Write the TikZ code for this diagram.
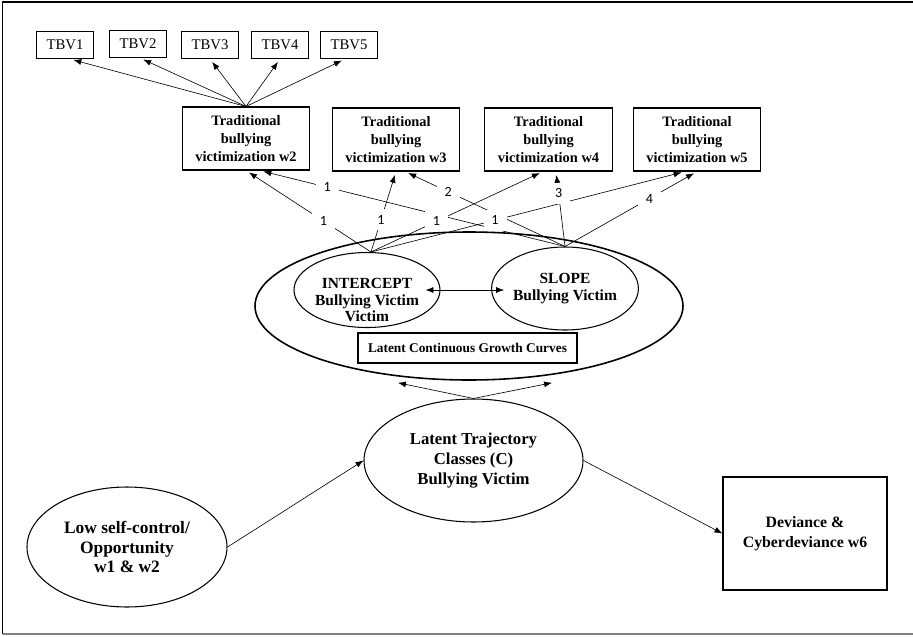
\documentclass[tikz,border=0pt]{standalone}
\usepackage{fontspec}
\setmainfont{Liberation Serif}
\newfontfamily\numfont{Carlito}
\usetikzlibrary{arrows.meta,shapes.geometric}

\begin{document}
\begin{tikzpicture}[
  >={Latex[length=4.5pt,width=3.4pt]},
  every node/.style={align=center},
  tbv/.style={draw,line width=0.6pt,minimum width=1.14cm,minimum height=0.54cm,inner sep=1pt,font=\fontsize{8.4}{10}\selectfont},
  wave/.style={draw,line width=0.6pt,minimum width=2.55cm,minimum height=1.26cm,inner sep=1pt,font=\fontsize{8.2}{10.2}\selectfont\bfseries},
  lat/.style={ellipse,draw,line width=0.6pt,inner sep=0pt},
  bold/.style={font=\fontsize{8.8}{9.6}\selectfont\bfseries},
  load/.style={->,line width=0.35pt,shorten >=2pt},
  lab/.style={fill=white,inner xsep=4.5pt,inner ysep=3.5pt,font=\numfont\fontsize{8}{9}\selectfont}
]
\useasboundingbox (0,0) rectangle (18.26,-12.72);
\draw[line width=0.9pt] (18.26,-0.04) -- (0.05,-0.04) -- (0.05,-12.68);
\draw[line width=0.9pt,gray] (0.05,-12.68) -- (18.26,-12.68);

% indicators
\node[tbv] (tbv1) at (1.30,-0.90) {TBV1};
\node[tbv] (tbv2) at (2.76,-0.88) {TBV2};
\node[tbv] (tbv3) at (4.20,-0.90) {TBV3};
\node[tbv] (tbv4) at (5.60,-0.90) {TBV4};
\node[tbv] (tbv5) at (6.98,-0.90) {TBV5};

\node[wave] (w2) at (4.92,-2.77) {Traditional\\bullying\\victimization w2};
\node[wave] (w3) at (7.92,-2.79) {Traditional\\bullying\\victimization w3};
\node[wave] (w4) at (10.97,-2.79) {Traditional\\bullying\\victimization w4};
\node[wave] (w5) at (13.94,-2.79) {Traditional\\bullying\\victimization w5};

\draw[load] (w2.north) -- ([xshift=0.1cm]tbv1.south);
\draw[load] (w2.north) -- ([xshift=0.04cm]tbv2.south);
\draw[load] (w2.north) -- (tbv3.south);
\draw[load] (w2.north) -- (tbv4.south);
\draw[load] (w2.north) -- ([xshift=-0.08cm]tbv5.south);

% growth factors
\node[lat,minimum width=2.92cm,minimum height=1.50cm,
  label={[bold,align=center,yshift=-0.2cm]center:INTERCEPT\\Bullying Victim\\Victim}] (int) at (7.34,-5.80) {};
\node[lat,bold,minimum width=2.92cm,minimum height=1.66cm] (slope) at (11.30,-5.77) {SLOPE\\Bullying Victim};
\node[draw,line width=0.6pt,minimum width=4.38cm,minimum height=0.60cm,font=\fontsize{7.6}{9}\selectfont\bfseries] (lcgc) at (9.35,-6.96) {Latent Continuous Growth Curves};
\draw[<->,line width=0.35pt] ([xshift=-0.3cm]int.east) -- ([xshift=0.26cm]slope.west |- int.east);

% loadings
\coordinate (ip) at ([xshift=0.08cm]int.north);
\draw[load] (ip) -- (w2.south) coordinate[pos=.38] (i2);
\draw[load] (ip) -- (w3.south) coordinate[pos=.40] (i3);
\draw[load] (ip) -- ([xshift=-0.11cm]w4.south) coordinate[pos=.38] (i4);
\draw[load] (ip) -- ([xshift=-0.24cm]w5.south) coordinate[pos=.395] (i5);
\draw[load] (slope.north) -- ([xshift=0.28cm]w2.south) coordinate[pos=.78] (s2);
\draw[load] (slope.north) -- ([xshift=0.18cm]w3.south) coordinate[pos=.73] (s3);
\draw[load] (slope.north) -- ([xshift=0.15cm]w4.south) coordinate[pos=.71] (s4);
\draw[load] (slope.north) -- (w5.south) coordinate[pos=.64] (s5);
\node[lab] (li2) at (i2) {1};
\node[lab] (li3) at (i3) {1};
\node[lab] (li4) at (i4) {1};
\node[lab] (li5) at (i5) {1};
\node[lab] (ls2) at (s2) {1};
\node[lab] (ls3) at (s3) {2};
\node[lab] (ls4) at (s4) {3};
\node[lab] (ls5) at (s5) {4};

\node[lat,line width=0.9pt,minimum width=8.56cm,minimum height=2.96cm] (grow) at (9.38,-6.12) {};

% structural part
\node[lat,minimum width=4.38cm,minimum height=2.46cm,font=\fontsize{9.5}{11.6}\selectfont\bfseries] (ltc) at (9.47,-9.21) {Latent Trajectory\\Classes (C)\\Bullying Victim};
\node[lat,minimum width=4.00cm,minimum height=2.40cm,font=\fontsize{9.9}{11.3}\selectfont\bfseries] (low) at (2.54,-10.94) {Low self-control/\\Opportunity\\w1 \& w2};
\node[draw,line width=0.6pt,minimum width=3.28cm,minimum height=2.26cm,font=\fontsize{9}{11.3}\selectfont\bfseries] (dev) at (16.10,-10.67) {Deviance \&\\Cyberdeviance w6};

\draw[->,line width=0.35pt] (ltc.north) -- ([xshift=-1.42cm,yshift=-0.04cm]grow.south);
\draw[->,line width=0.35pt] (ltc.north) -- ([xshift=1.66cm,yshift=-0.04cm]grow.south);
\draw[->,line width=0.35pt] (low.east) -- (ltc.west);
\draw[->,line width=0.35pt] (ltc.east) -- (dev.west);
\end{tikzpicture}
\end{document}
